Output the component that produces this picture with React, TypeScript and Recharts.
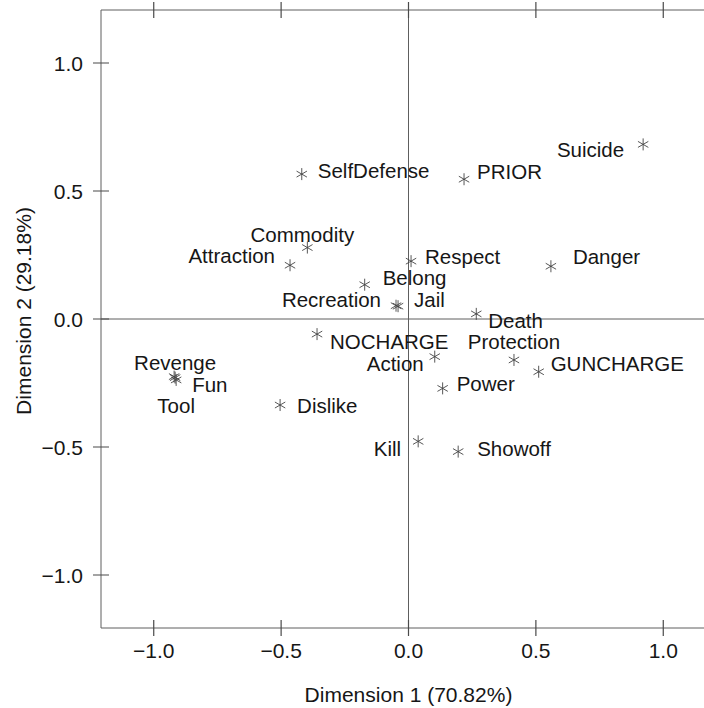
import React from "react";
import {
  ScatterChart,
  Scatter,
  XAxis,
  YAxis,
  ReferenceLine,
} from "recharts";

// ---- data ----
const names = [
  "Suicide", "PRIOR", "SelfDefense", "Commodity", "Attraction", "Respect",
  "Danger", "Belong", "Recreation", "Jail", "Death", "NOCHARGE",
  "Protection", "Action", "GUNCHARGE", "Power", "Kill", "Showoff",
  "Revenge", "Fun", "Tool", "Dislike",
];
const dim1 = [
  0.921, 0.218, -0.419, -0.397, -0.465, 0.010,
  0.559, -0.172, -0.049, -0.041, 0.266, -0.359,
  0.414, 0.103, 0.511, 0.134, 0.038, 0.195,
  -0.920, -0.916, -0.912, -0.504,
];
const dim2 = [
  0.682, 0.546, 0.566, 0.279, 0.210, 0.226,
  0.206, 0.134, 0.052, 0.050, 0.020, -0.059,
  -0.160, -0.147, -0.206, -0.271, -0.478, -0.518,
  -0.225, -0.229, -0.238, -0.336,
];
const tickValues = [-1.0, -0.5, 0.0, 0.5, 1.0];
const xTitle = "Dimension 1 (70.82%)";
const yTitle = "Dimension 2 (29.18%)";

// ---- label placement (style only) ----
type Place = { anchor: "start" | "end" | "middle"; dx: number; dy: number };
const placement: Record<string, Place> = {
  Suicide: { anchor: "end", dx: -19, dy: 13 },
  PRIOR: { anchor: "start", dx: 13, dy: 0 },
  SelfDefense: { anchor: "start", dx: 16, dy: 4 },
  Commodity: { anchor: "middle", dx: -5, dy: -6 },
  Attraction: { anchor: "end", dx: -15, dy: -2 },
  Respect: { anchor: "start", dx: 14, dy: 3 },
  Danger: { anchor: "start", dx: 22, dy: -2 },
  Belong: { anchor: "start", dx: 18, dy: 0 },
  Recreation: { anchor: "end", dx: -15, dy: 1 },
  Jail: { anchor: "start", dx: 16, dy: 1 },
  Death: { anchor: "start", dx: 12, dy: 14 },
  NOCHARGE: { anchor: "start", dx: 13, dy: 15 },
  Protection: { anchor: "middle", dx: 0, dy: -11 },
  Action: { anchor: "end", dx: -11, dy: 14 },
  GUNCHARGE: { anchor: "start", dx: 12, dy: -1 },
  Power: { anchor: "start", dx: 14, dy: 3 },
  Kill: { anchor: "end", dx: -17, dy: 15 },
  Showoff: { anchor: "start", dx: 19, dy: 4 },
  Revenge: { anchor: "middle", dx: 1, dy: -7 },
  Fun: { anchor: "start", dx: 17, dy: 14 },
  Tool: { anchor: "middle", dx: 0, dy: 33 },
  Dislike: { anchor: "start", dx: 17, dy: 8 },
};

const data = names.map((n, i) => ({ name: n, x: dim1[i], y: dim2[i] }));

const FONT = "'Liberation Sans', Arial, Helvetica, sans-serif";
const TEXT = "#161616";
const LINE = "#5e5e5e";
const TICK = "#4a4a4a";
const DOMAIN: [number, number] = [-1.207, 1.207];

// layout constants
const CHART_W = 740;
const CHART_H = 708;
const M_TOP = 9;
const TOP_AX_H = 1;
const BOT_AX_H = 80;
const LEFT_AX_W = 101;
const RIGHT_AX_W = 24;
const PLOT_H = CHART_H - M_TOP - TOP_AX_H - BOT_AX_H;
const PLOT_W = CHART_W - LEFT_AX_W - RIGHT_AX_W;

const fmt = (v: number) =>
  v < 0 ? "\u2212" + Math.abs(v).toFixed(1) : v.toFixed(1);

const StarPoint = (props: any) => {
  const { cx, cy, payload } = props;
  if (cx == null || cy == null) return null;
  const r = 6;
  const c = Math.cos(Math.PI / 6) * r;
  const s = Math.sin(Math.PI / 6) * r;
  const p = placement[payload.name] || { anchor: "start", dx: 14, dy: 5 };
  const d =
    `M${cx},${cy - r}L${cx},${cy + r}` +
    `M${cx - c},${cy - s}L${cx + c},${cy + s}` +
    `M${cx - c},${cy + s}L${cx + c},${cy - s}`;
  return (
    <g>
      <path d={d} stroke="#444" strokeWidth={0.9} fill="none" />
      <text
        x={cx + p.dx}
        y={cy + p.dy}
        textAnchor={p.anchor}
        fontFamily={FONT}
        fontSize={20.5}
        fill={TEXT}
      >
        {payload.name}
      </text>
    </g>
  );
};

const BottomTick = (props: any) => {
  const { x, y, payload } = props;
  return (
    <text x={x} y={y + 30} textAnchor="middle" fontFamily={FONT} fontSize={21} fill={TEXT}>
      {fmt(payload.value)}
    </text>
  );
};

// draws the top tick and the matching bottom tick
const TopTick = (props: any) => {
  const { x, y } = props;
  const yb = y + PLOT_H;
  return (
    <path
      d={`M${x},${y - 8}L${x},${y + 8}M${x},${yb - 8}L${x},${yb + 8}`}
      stroke={TICK}
      strokeWidth={1.2}
    />
  );
};

const LeftTick = (props: any) => {
  const { x, y, payload } = props;
  return (
    <text x={x - 18} y={y + 8} textAnchor="end" fontFamily={FONT} fontSize={21} fill={TEXT}>
      {fmt(payload.value)}
    </text>
  );
};

// draws the right tick and the matching left tick
const RightTick = (props: any) => {
  const { x, y } = props;
  const xl = x - PLOT_W;
  return (
    <path
      d={`M${x - 8},${y}L${x + 8},${y}M${xl - 8},${y}L${xl + 8},${y}`}
      stroke={TICK}
      strokeWidth={1.2}
    />
  );
};

export default function App() {
  return (
    <div
      style={{
        position: "fixed",
        left: 0,
        top: 0,
        width: 704,
        height: 708,
        overflow: "hidden",
        background: "#fff",
      }}
    >
      <ScatterChart
        width={CHART_W}
        height={CHART_H}
        margin={{ top: M_TOP, right: 0, bottom: 0, left: 0 }}
      >
        <XAxis
          type="number"
          dataKey="x"
          domain={DOMAIN}
          allowDataOverflow
          ticks={tickValues}
          interval={0}
          height={BOT_AX_H}
          tickSize={0}
          tickMargin={0}
          tickLine={false}
          axisLine={{ stroke: LINE, strokeWidth: 1 }}
          tick={<BottomTick />}
        />
        <XAxis
          xAxisId="top"
          orientation="top"
          type="number"
          dataKey="x"
          domain={DOMAIN}
          allowDataOverflow
          ticks={tickValues}
          interval={0}
          height={TOP_AX_H}
          tickSize={0}
          tickMargin={0}
          tickLine={false}
          axisLine={{ stroke: LINE, strokeWidth: 1 }}
          tick={<TopTick />}
        />
        <YAxis
          type="number"
          dataKey="y"
          domain={DOMAIN}
          allowDataOverflow
          ticks={tickValues}
          interval={0}
          width={LEFT_AX_W}
          tickSize={0}
          tickMargin={0}
          tickLine={false}
          axisLine={{ stroke: LINE, strokeWidth: 1 }}
          tick={<LeftTick />}
        />
        <YAxis
          yAxisId="right"
          orientation="right"
          type="number"
          dataKey="y"
          domain={DOMAIN}
          allowDataOverflow
          ticks={tickValues}
          interval={0}
          width={RIGHT_AX_W}
          tickSize={0}
          tickMargin={0}
          tickLine={false}
          axisLine={{ stroke: LINE, strokeWidth: 1 }}
          tick={<RightTick />}
        />
        <ReferenceLine x={0} stroke={LINE} strokeWidth={1} />
        <ReferenceLine y={0} stroke={LINE} strokeWidth={1} />
        <Scatter
          data={data}
          isAnimationActive={false}
          shape={(p: any) => <StarPoint {...p} />}
        />
      </ScatterChart>
      <svg
        width={704}
        height={708}
        style={{ position: "absolute", left: 0, top: 0, pointerEvents: "none" }}
      >
        <text x={408.5} y={702} textAnchor="middle" fontFamily={FONT} fontSize={21} fill={TEXT}>
          {xTitle}
        </text>
        <text
          x={31}
          y={311}
          transform="rotate(-90 31 311)"
          textAnchor="middle"
          fontFamily={FONT}
          fontSize={21}
          fill={TEXT}
        >
          {yTitle}
        </text>
      </svg>
    </div>
  );
}
